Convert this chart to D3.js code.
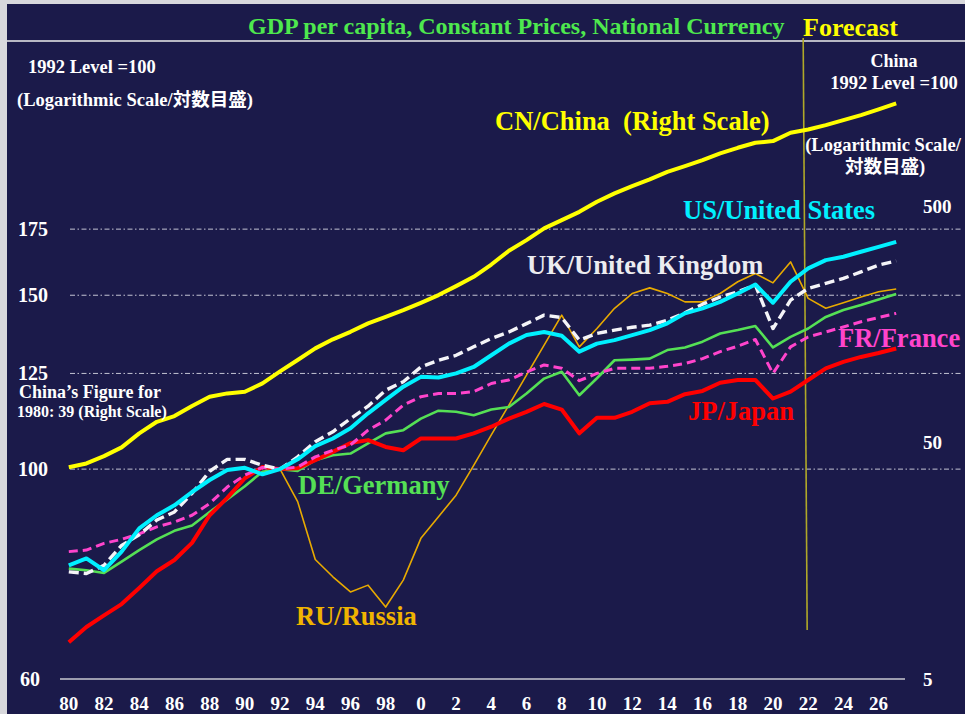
<!DOCTYPE html>
<html>
<head>
<meta charset="utf-8">
<script src="https://cdn.jsdelivr.net/npm/d3@7"></script>
<style>
body { margin: 0; background: #1b1a4a; }
svg { display: block; }
.lbl { font-family: "Liberation Serif", "Times New Roman", "Noto Sans CJK JP", serif; font-weight: bold; }
</style>
</head>
<body>
<svg id="chart" width="965" height="714"></svg>
<script>
var years = d3.range(1980, 2028)
var xTickYears = [1980, 1982, 1984, 1986, 1988, 1990, 1992, 1994, 1996, 1998, 2000, 2002, 2004, 2006, 2008, 2010, 2012, 2014, 2016, 2018, 2020, 2022, 2024, 2026]
var xTickLabels = ['80', '82', '84', '86', '88', '90', '92', '94', '96', '98', '0', '2', '4', '6', '8', '10', '12', '14', '16', '18', '20', '22', '24', '26']
var leftTicks = [100, 125, 150, 175]
var leftBaseLabel = '60'
var rightTicks = [5, 50, 500]
var forecastYear = 2022

// 1992 = 100, left scale
var japan = [66.8, 69.2, 71.1, 73.0, 75.8, 78.8, 80.9, 84.2, 89.8, 93.5, 97.9, 100.5, 100,
	100.2, 102.1, 104.1, 106.3, 107.0, 105.3, 104.5, 107.4, 107.4, 107.4, 108.7, 110.4, 112.5, 114.3, 116.4,
	114.9, 108.7, 112.7, 112.7, 114.3, 116.6, 117.0, 119.1, 120.0, 122.3, 123.1, 123.1, 117.9, 119.8, 123.1, 126.5, 128.4, 129.9, 131.1, 132.5]
var us = [79.9, 81.2, 79.0, 82.5, 87.1, 89.8, 91.9, 94.8, 97.5, 99.8, 100.3, 98.8, 100,
	102.3, 105.5, 107.4, 110.0, 113.9, 117.5, 121.2, 124.0, 123.8, 125.0, 126.9, 130.4, 134.0, 136.7, 137.7,
	136.5, 131.5, 134.0, 135.1, 136.7, 138.3, 140.5, 143.8, 145.5, 147.7, 150.6, 153.8, 147.4, 154.8, 159.7, 162.8, 164.1, 166.0, 167.9, 169.9]
var uk = [78.7, 78.4, 79.9, 83.7, 85.8, 88.8, 90.5, 94.5, 99.5, 102.3, 102.3, 100.9, 100,
	102.9, 106.6, 109.1, 112.5, 115.8, 120.2, 122.6, 126.9, 128.9, 130.4, 133.0, 135.6, 137.7, 140.4, 143.2,
	142.4, 135.1, 137.2, 138.3, 139.2, 139.9, 141.5, 144.0, 146.9, 149.4, 151.2, 153.6, 138.8, 148.3, 152.4, 154.2, 156.0, 158.4, 160.9, 162.5]
var germany = [79.3, 79.0, 78.5, 80.6, 82.8, 84.9, 86.6, 87.7, 90.5, 93.2, 96.1, 99.4, 100,
	99.6, 102.1, 103.3, 103.7, 106.2, 108.7, 109.5, 112.5, 114.6, 114.3, 113.4, 114.9, 115.6, 119.3, 123.5,
	125.5, 118.8, 123.6, 128.9, 129.1, 129.4, 132.0, 132.8, 134.6, 137.2, 138.3, 139.6, 132.8, 136.1, 138.8, 142.6, 144.9, 146.6, 148.5, 150.4]
var france = [82.5, 82.8, 84.1, 84.9, 86.0, 87.4, 88.4, 89.8, 92.3, 95.9, 98.6, 100.4, 100,
	100.5, 102.9, 104.5, 105.8, 109.5, 112.1, 116.1, 118.4, 119.3, 119.3, 119.8, 122.1, 123.1, 125.4, 127.5,
	126.5, 122.9, 125.0, 126.5, 126.5, 126.5, 127.1, 127.9, 129.4, 131.5, 133.2, 135.3, 125.0, 133.0, 136.1, 137.7, 139.3, 141.0, 142.4, 143.8]
var russia = [null, null, null, null, null, null, null, null, null, null, null, null, 100,
	92.7, 81.0, 77.8, 75.1, 76.3, 72.5, 77.2, 85.1, 89.5, 94.1, 100.9, 108.3, 116.1, 124.5, 133.5,
	143.2, 133.0, 138.8, 145.5, 150.6, 152.6, 150.6, 147.7, 147.7, 150.6, 154.8, 157.8, 154.4, 162.1, 148.9, 145.5, 147.4, 149.4, 151.2, 152.2]
// China, right scale
var china = [39.3, 40.8, 43.8, 47.7, 54.7, 61.2, 64.7, 71.4, 78.1, 80.7, 82.0, 89.0, 100,
	111.7, 125.1, 136.6, 147.0, 159.6, 170.2, 181.7, 195.0, 210.2, 229.4, 251.2, 283.0,
	323.6, 359.0, 402.3, 436.3, 472.9, 521.6, 565.9, 607.6, 648.3, 698.3, 737.9, 782.6, 835.6, 882.2, 926.2, 941.4,
	1020.9, 1054.8, 1100, 1155, 1212, 1282, 1359]

var W = 965, H = 714
var svg = d3.select('#chart')
var x = d3.scalePoint().domain(years).range([60, 905]).padding(0.5)
var yL = d3.scaleLog().domain([61.3, 272]).range([679, 40])
var yR = d3.scaleLog().domain([5, 2520]).range([679, 40])

// frame
svg.append('rect').attr('width', W).attr('height', H).attr('fill', '#1b1a4a')
svg.append('rect').attr('x', 0).attr('y', 0).attr('width', 7).attr('height', H).attr('fill', '#d8d8dc')
svg.append('rect').attr('x', 0).attr('y', 0).attr('width', W).attr('height', 4).attr('fill', '#d8d8dc')
svg.append('line').attr('x1', 7).attr('x2', W).attr('y1', 41).attr('y2', 41)
	.attr('stroke', '#b8b8c4').attr('stroke-width', 2)

// grid
svg.selectAll('.grid').data(leftTicks).enter().append('line')
	.attr('class', 'grid')
	.attr('x1', 70).attr('x2', 962)
	.attr('y1', function(d){return yL(d)}).attr('y2', function(d){return yL(d)})
	.attr('stroke', '#c4c4d4').attr('stroke-width', 1)
	.attr('stroke-dasharray', '5,2.5,1.5,2.5')
svg.append('line').attr('x1', 60).attr('x2', 905)
	.attr('y1', yL.range()[0]).attr('y2', yL.range()[0])
	.attr('stroke', '#c8c8d0').attr('stroke-width', 1.6)

// axis labels
function txt(s, xx, yy, size, color, anchor)
{
	return svg.append('text').attr('class', 'lbl')
		.attr('x', xx).attr('y', yy).attr('dy', '0.35em')
		.attr('font-size', size).attr('fill', color)
		.attr('text-anchor', anchor || 'start').text(s)
}
svg.selectAll('.ltick').data(leftTicks).enter().append('text')
	.attr('class', 'lbl ltick')
	.attr('x', 18).attr('y', function(d){return yL(d)}).attr('dy', '0.35em')
	.attr('font-size', 20).attr('fill', '#ffffff').text(function(d){return d})
txt(leftBaseLabel, 20, yL.range()[0], 20, '#ffffff')
svg.selectAll('.rtick').data(rightTicks).enter().append('text')
	.attr('class', 'lbl rtick')
	.attr('x', 923).attr('y', function(d){return yR(d)}).attr('dy', '0.35em')
	.attr('font-size', 19).attr('fill', '#ffffff').text(function(d){return d})
svg.selectAll('.xtick').data(xTickYears).enter().append('text')
	.attr('class', 'lbl xtick')
	.attr('x', function(d){return x(d)}).attr('y', 703).attr('dy', '0.35em')
	.attr('text-anchor', 'middle')
	.attr('font-size', 19).attr('fill', '#ffffff')
	.text(function(d, i){return xTickLabels[i]})

// forecast line
svg.append('line')
	.attr('x1', x(forecastYear) - 5).attr('x2', x(forecastYear) - 1)
	.attr('y1', 38).attr('y2', 630)
	.attr('stroke', '#b0a828').attr('stroke-width', 1.6)

// series
function draw(vals, scale, color, width, dash)
{
	var line = d3.line()
		.defined(function(d){return d != null})
		.x(function(d, i){return x(years[i])})
		.y(function(d){return scale(d)})
	var p = svg.append('path').datum(vals)
		.attr('d', line)
		.attr('fill', 'none')
		.attr('stroke', color)
		.attr('stroke-width', width)
		.attr('stroke-linejoin', 'round')
	if(dash) p.attr('stroke-dasharray', dash)
}
draw(russia, yL, '#e8aa00', 1.6)
draw(germany, yL, '#55e055', 2.6)
draw(japan, yL, '#ff0000', 4)
draw(france, yL, '#ff44cc', 3, '9,5')
draw(uk, yL, '#f4f4f8', 3.4, '10,5')
draw(us, yL, '#00f0ff', 4)
draw(china, yR, '#ffff00', 4)

// titles and notes
txt('GDP per capita, Constant Prices, National Currency', 248, 26, 24, '#4ee84e')
txt('Forecast', 803, 27, 26, '#ffff00')
txt('1992 Level =100', 28, 67, 18.5, '#ffffff')
txt('(Logarithmic Scale/対数目盛)', 17, 100, 18.5, '#ffffff')
txt('China\u2019s Figure for', 19, 392, 18, '#ffffff')
txt('1980: 39 (Right Scale)', 17, 411, 16, '#ffffff')
txt('China', 894, 61, 18, '#ffffff', 'middle')
txt('1992 Level =100', 894, 83, 18.5, '#ffffff', 'middle')
txt('(Logarithmic Scale/', 883, 145, 18.5, '#ffffff', 'middle')
txt('対数目盛)', 885, 167, 18.5, '#ffffff', 'middle')

txt('CN/China  (Right Scale)', 495, 121, 26.5, '#ffff00').style('white-space', 'pre')
txt('US/United States', 683, 210, 26.5, '#00f0ff')
txt('UK/United Kingdom', 527, 265, 26.5, '#ececf0')
txt('FR/France', 838, 338, 26.5, '#ff44cc')
txt('JP/Japan', 688, 411, 26.5, '#ff0000')
txt('DE/Germany', 298, 485, 26.5, '#55e055')
txt('RU/Russia', 296, 616, 26.5, '#f0b400')
</script>
</body>
</html>
